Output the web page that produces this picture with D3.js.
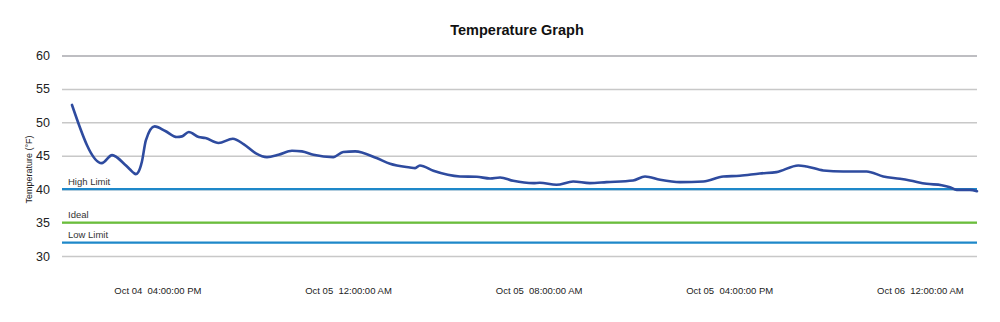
<!DOCTYPE html>
<html>
<head>
<meta charset="utf-8">
<script src="https://cdn.jsdelivr.net/npm/d3@7"></script>
<style>
  html, body { margin: 0; padding: 0; background: #fff; }
  svg { display: block; font-family: "Liberation Sans", Arial, Helvetica, sans-serif; }
</style>
</head>
<body>
<svg id="chart" width="1000" height="322"></svg>
<script>
// ---- data ----
const times = [
  "2015-10-04 12:25","2015-10-04 13:40","2015-10-04 14:06","2015-10-04 14:38","2015-10-04 14:52","2015-10-04 15:00",
  "2015-10-04 15:06","2015-10-04 15:12","2015-10-04 15:21","2015-10-04 15:31",
  "2015-10-04 15:53","2015-10-04 16:20","2015-10-04 16:49","2015-10-04 17:02","2015-10-04 17:19","2015-10-04 17:44",
  "2015-10-04 18:01","2015-10-04 18:34","2015-10-04 19:10","2015-10-04 19:37","2015-10-04 20:07","2015-10-04 20:36",
  "2015-10-04 21:05","2015-10-04 21:39","2015-10-04 22:04","2015-10-04 22:33","2015-10-04 23:23","2015-10-04 23:48",
  "2015-10-05 00:18","2015-10-05 01:12","2015-10-05 01:46","2015-10-05 02:36","2015-10-05 02:49","2015-10-05 03:01",
  "2015-10-05 03:35","2015-10-05 04:42","2015-10-05 05:24","2015-10-05 05:58","2015-10-05 06:23","2015-10-05 06:56",
  "2015-10-05 07:47","2015-10-05 08:03","2015-10-05 08:45","2015-10-05 09:27","2015-10-05 10:09","2015-10-05 10:51",
  "2015-10-05 11:58","2015-10-05 12:28","2015-10-05 13:06","2015-10-05 13:56","2015-10-05 14:55","2015-10-05 15:45",
  "2015-10-05 16:27","2015-10-05 17:17","2015-10-05 17:59","2015-10-05 18:54","2015-10-05 19:15","2015-10-05 19:57",
  "2015-10-05 20:47","2015-10-05 21:46","2015-10-05 22:28","2015-10-05 23:10","2015-10-05 23:35","2015-10-06 00:17",
  "2015-10-06 00:55","2015-10-06 01:16","2015-10-06 01:33","2015-10-06 02:06","2015-10-06 02:24"
];
const temps = [
  52.6, 43.9, 45.1, 43.7, 42.9, 42.45,
  42.25, 42.55, 44.1, 47.3,
  49.4, 48.7, 47.8, 47.9, 48.55, 47.8,
  47.65, 46.9, 47.55, 46.75, 45.4, 44.8,
  45.15, 45.75, 45.65, 45.15, 44.8, 45.55,
  45.65, 44.65, 43.8, 43.25, 43.15, 43.55,
  42.75, 41.9, 41.85, 41.6, 41.75, 41.25,
  40.9, 40.95, 40.65, 41.15, 40.9, 41.05,
  41.3, 41.9, 41.4, 41.05, 41.15, 41.9,
  42.0, 42.35, 42.55, 43.55, 43.4, 42.8,
  42.65, 42.65, 41.9, 41.55, 41.3, 40.8,
  40.6, 40.3, 39.9, 39.9, 39.7
];
const yTicks = [30, 35, 40, 45, 50, 55, 60];
const xTickTimes = ["2015-10-04 16:00","2015-10-05 00:00","2015-10-05 08:00","2015-10-05 16:00","2015-10-06 00:00"];
const limitNames = ["High Limit", "Ideal", "Low Limit"];
const limitValues = [40, 35, 32];
const limitColors = ["#1e88c9", "#6abf3a", "#1e88c9"];
const chartTitle = "Temperature Graph";
const yTitle = "Temperature (°F)";

// ---- drawing ----
const parse = d3.timeParse("%Y-%m-%d %H:%M");
const data = times.map((t, i) => ({ t: parse(t), v: temps[i] }));
const svg = d3.select("#chart");

const gridLeft = 62, gridRight = 977;
const x = d3.scaleTime().domain(d3.extent(data, d => d.t)).range([72, 977]);
const y = d3.scaleLinear().domain([30, 60]).range([256, 55.5]);

// title
svg.append("text").attr("x", 517).attr("y", 35).attr("text-anchor", "middle")
  .attr("font-size", "14.5px").attr("font-weight", "bold").attr("fill", "#111").text(chartTitle);

// grid + y labels
const yAxis = d3.axisLeft(y).tickValues(yTicks).tickSize(-(gridRight - gridLeft)).tickPadding(12);
const gy = svg.append("g").attr("transform", `translate(${gridLeft},0)`).call(yAxis);
gy.select(".domain").remove();
gy.selectAll(".tick line").attr("stroke", d => d === 60 ? "#a9a9ae" : "#c8c8c8").attr("stroke-width", 1.5);
gy.selectAll(".tick text").attr("font-size", "12.5px").attr("fill", "#222").attr("font-family", "inherit");

// y title
svg.append("text").attr("transform", "translate(32,169.5) rotate(-90)").attr("text-anchor", "middle")
  .attr("font-size", "9px").attr("fill", "#222").text(yTitle);

// limit lines
limitValues.forEach((v, i) => {
  svg.append("line").attr("x1", gridLeft).attr("x2", gridRight).attr("y1", y(v)).attr("y2", y(v))
    .attr("stroke", limitColors[i]).attr("stroke-width", 2.2);
  svg.append("text").attr("x", 68).attr("y", y(v) - 4.5).attr("font-size", "9.5px").attr("fill", "#333")
    .text(limitNames[i]);
});

// x axis
const xAxis = d3.axisBottom(x).tickValues(xTickTimes.map(parse)).tickSize(0)
  .tickFormat(d3.timeFormat("%b %d  %I:%M:%S %p"));
const gx = svg.append("g").attr("transform", "translate(0,284)").call(xAxis);
gx.select(".domain").remove();
gx.selectAll(".tick text").attr("font-size", "9.5px").attr("fill", "#222").attr("font-family", "inherit")
  .style("white-space", "pre");

// temperature line
const line = d3.line().x(d => x(d.t)).y(d => y(d.v)).curve(d3.curveMonotoneX);
svg.append("path").datum(data).attr("d", line).attr("fill", "none")
  .attr("stroke", "#2e4b9f").attr("stroke-width", 2.6).attr("stroke-linejoin", "round").attr("stroke-linecap", "round");
</script>
</body>
</html>
